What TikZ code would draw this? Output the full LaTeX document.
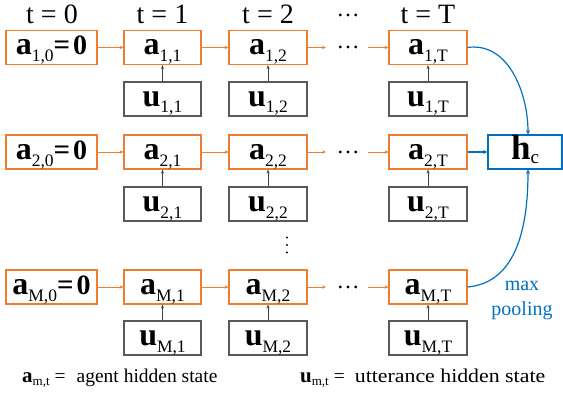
\documentclass[tikz,border=0pt]{standalone}
\usepackage{fontspec}
\setmainfont{Liberation Serif}
\usetikzlibrary{arrows.meta}
\definecolor{orng}{HTML}{ED7D31}
\definecolor{blu}{HTML}{0070C0}
\definecolor{gry}{HTML}{595959}
\definecolor{dgry}{HTML}{404040}
\newcommand{\bigv}[2]{{\fontsize{32}{32}\selectfont\bfseries #1}\raisebox{-6.5pt}{\fontsize{17.5}{17.5}\selectfont #2}}
\newcommand{\smallv}[2]{{\fontsize{21}{21}\selectfont\bfseries #1}\raisebox{-3.5pt}{\fontsize{13}{13}\selectfont #2}}
\begin{document}
\begin{tikzpicture}[x=1pt,y=-1pt,
  box/.style={draw, line width=1.1pt, inner sep=0pt, text height=24pt, text depth=9pt, minimum height=34pt},
  abox/.style={box, draw=orng},
  ubox/.style={box, draw=gry},
  hbox/.style={box, draw=blu, minimum width=74pt},
  oarr/.style={draw=orng, line width=1pt, -{Stealth[length=4pt,width=3.5pt]}},
  garr/.style={draw=dgry, line width=0.7pt, -{Stealth[length=4pt,width=3pt]}},
  barr/.style={draw=blu, line width=1.2pt, -{Stealth[length=4.5pt,width=4pt]}},
  toplab/.style={font=\fontsize{28}{28}\selectfont, anchor=base},
  dotlab/.style={font=\fontsize{23}{23}\selectfont, anchor=base, inner sep=0pt, text height=4pt, text depth=0pt},
  leg/.style={font=\fontsize{19.5}{19.5}\selectfont, anchor=base west, inner sep=0pt},
  bluelab/.style={font=\fontsize{20}{20}\selectfont, text=blu, anchor=base},
  vdot/.style={fill=black, circle, inner sep=0pt, minimum size=2.2pt}
]
\useasboundingbox (0,0) rectangle (563,396);
% top labels
\node[toplab] (t0) at (52,24) {t = 0};
\node[toplab] (t1) at (162.5,24) {t = 1};
\node[toplab] (t2) at (268,24) {t = 2};
\node[dotlab] (tdots) at (348,17) {…};
\node[toplab] (tT) at (428,24) {t = T};
% rows
\foreach \r/\ya/\yu in {1/47.5/99, 2/152/204, M/287/338} {
  \node[abox, minimum width=91pt] (a\r0) at (51.5,\ya) {\bigv{a}{\r,0}{\fontsize{29}{29}\selectfont\bfseries=}\hspace{3pt}{\fontsize{28}{28}\selectfont\bfseries 0}};
  \node[abox, minimum width=77pt] (a\r1) at (162.5,\ya) {\bigv{a}{\r,1}};
  \node[abox, minimum width=78pt] (a\r2) at (268,\ya) {\bigv{a}{\r,2}};
  \node[abox, minimum width=78pt] (a\r t) at (428,\ya) {\bigv{a}{\r,T}};
  \node[ubox, minimum width=77pt] (u\r1) at (162.5,\yu) {\bigv{u}{\r,1}};
  \node[ubox, minimum width=78pt] (u\r2) at (268,\yu) {\bigv{u}{\r,2}};
  \node[ubox, minimum width=78pt] (u\r t) at (428,\yu) {\bigv{u}{\r,T}};
  \coordinate (dl\r) at (326,\ya);
  \coordinate (dr\r) at (368,\ya);
  \node[dotlab] (dots\r) at (348,{\ya+1.5}) {…};
  \draw[oarr] (a\r0) -- (a\r1);
  \draw[oarr] (a\r1) -- (a\r2);
  \draw[oarr] (a\r2) -- (dl\r);
  \draw[oarr] (dr\r) -- (a\r t);
  \draw[garr] (u\r1) -- (a\r1);
  \draw[garr] (u\r2) -- (a\r2);
  \draw[garr] (u\r t) -- (a\r t);
}
\node[vdot] (vd1) at (287,237.5) {};
\node[vdot] (vd2) at (287,245) {};
\node[vdot] (vd3) at (287,252.5) {};
% h_c
\node[hbox] (hc) at (525,152) {{\fontsize{35}{35}\selectfont\bfseries h}\raisebox{-4pt}{\fontsize{19}{19}\selectfont c}};
\draw[barr] (a1t.east) to[out=8,in=90] ([xshift=3pt]hc.north);
\draw[barr] (a2t) -- (hc);
\draw[barr] (aMt.east) to[out=5,in=-90] ([xshift=3pt]hc.south);
\node[bluelab] (max) at (522,290) {max};
\node[bluelab] (pool) at (522,315) {pooling};
% legend
\node[leg] (lega) at (22,382) {\smallv{a}{m,t}\hspace{5pt}=\hspace{11pt}agent hidden state};
\node[leg] (legu) at (300,382) {\smallv{u}{m,t}\hspace{5pt}=\hspace{10pt}\scalebox{1.12}[1]{utterance hidden state}};
\end{tikzpicture}
\end{document}
